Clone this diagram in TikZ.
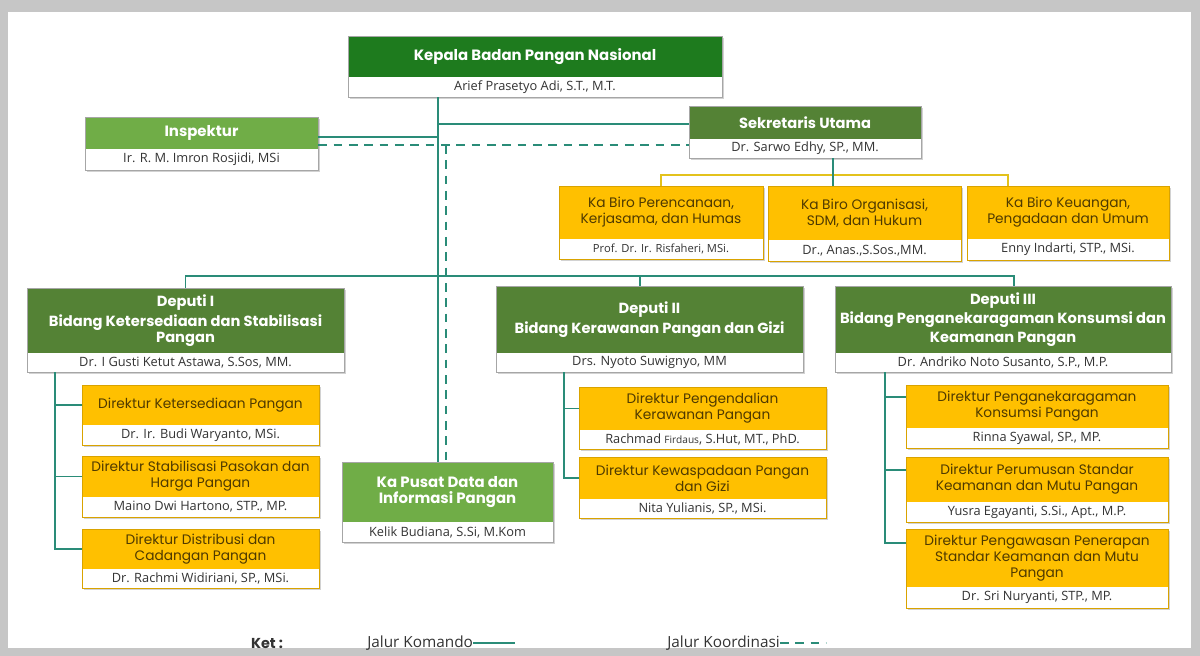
\documentclass[tikz,border=0pt]{standalone}
\usepackage{fontspec}
\setmainfont{Poppins}
\newfontfamily\namefont{Open Sans}
\usetikzlibrary{fit,calc,shadows}
\definecolor{gdark}{HTML}{1E7B1E}
\definecolor{gmid}{HTML}{548235}
\definecolor{glight}{HTML}{70AD47}
\definecolor{yel}{HTML}{FFC000}
\definecolor{lnteal}{HTML}{2A8C78}
\definecolor{ylin}{HTML}{E3C21C}
\definecolor{ytext}{HTML}{4F3A00}
\definecolor{ntext}{HTML}{333333}
\tikzset{
  boxframe/.style={inner sep=0pt, fill=white, drop shadow={shadow xshift=1.2pt, shadow yshift=-1.8pt, opacity=0.35}},
  hdr-gdark/.style={fill=gdark}, hdr-gmid/.style={fill=gmid}, hdr-glight/.style={fill=glight}, hdr-yel/.style={fill=yel},
  frm-gdark/.style={draw=gray!70, line width=0.4pt}, frm-gmid/.style={draw=gray!70, line width=0.4pt},
  frm-glight/.style={draw=gray!70, line width=0.4pt}, frm-yel/.style={draw=yel!85!black, line width=0.4pt},
  gttl/.style={text=white, align=center, font=\bfseries\fontsize{11}{14}\selectfont, inner sep=0pt},
  ttl-gdark/.style={gttl, font=\bfseries\fontsize{11.2}{14}\selectfont},
  ttl-gmid/.style={gttl}, ttl-glight/.style={gttl, font=\bfseries\fontsize{11.2}{11.8}\selectfont},
  ttl-yel/.style={text=ytext, align=center, font=\fontsize{10.3}{12}\selectfont, inner sep=0pt},
  nm/.style={text=ntext, font=\namefont\fontsize{9.6}{10}\selectfont, inner sep=0pt},
  cmd/.style={draw=lnteal, line width=1.3pt},
  koor/.style={draw=lnteal, line width=1.3pt, dash pattern=on 6.5pt off 5pt},
  ylink/.style={draw=ylin, line width=1.3pt},
  legt/.style={text=ntext, font=\namefont\fontsize{11.5}{12}\selectfont, inner sep=0pt},
}
\newcommand{\obox}[9]{%
  \node[boxframe, fit={(#2,#3) (#4,#6)}] (#1) {};
  \fill[hdr-#7] (#2,#3) rectangle (#4,#5);
  \draw[frm-#7] (#2,#3) rectangle (#4,#6);
  \node[ttl-#7] (#1-t) at ($(#2,#3)!0.5!(#4,#5)$) {#8};
  \node[nm] (#1-n) at ($(#2,#5)!0.5!(#4,#6)$) {#9};
}
\begin{document}
\begin{tikzpicture}[x=0.75pt,y=-0.75pt]
\useasboundingbox (0,0) rectangle (1200,656);
\fill[gray!45] (0,0) rectangle (1200,656);
\fill[white] (8,12) rectangle (1191,648);
% boxes
\obox{kepala}{348}{36}{722}{77}{97}{gdark}{Kepala Badan Pangan Nasional}{Arief Prasetyo Adi, S.T., M.T.}
\obox{inspektur}{85}{117}{318}{149}{170}{glight}{Inspektur}{Ir. R. M. Imron Rosjidi, MSi}
\obox{sekretaris}{689}{106}{921}{139}{158}{gmid}{Sekretaris Utama}{Dr. Sarwo Edhy, SP., MM.}
\obox{biro1}{559}{186}{763}{239}{259}{yel}{Ka Biro Perencanaan,\\Kerjasama, dan Humas}{{\fontsize{8.4}{9}\selectfont Prof. Dr. Ir. Risfaheri, MSi.}}
\obox{biro2}{768}{186}{961}{240}{261}{yel}{Ka Biro Organisasi,\\SDM, dan Hukum}{Dr., Anas.,S.Sos.,MM.}
\obox{biro3}{967}{186}{1169}{239}{260}{yel}{Ka Biro Keuangan,\\Pengadaan dan Umum}{Enny Indarti, STP., MSi.}
\obox{dep1}{27}{288}{344}{353}{372}{gmid}{Deputi I\\[1pt]Bidang Ketersediaan dan Stabilisasi\\[-1.5pt]Pangan}{Dr. I Gusti Ketut Astawa, S.Sos, MM.}
\obox{dep2}{496}{286}{803}{353}{372}{gmid}{Deputi II\\[1pt]Bidang Kerawanan Pangan dan Gizi}{Drs. Nyoto Suwignyo, MM}
\obox{dep3}{835}{286}{1171}{353}{372}{gmid}{Deputi III\\Bidang Penganekaragaman Konsumsi dan\\Keamanan Pangan}{Dr. Andriko Noto Susanto, S.P., M.P.}
\obox{kapusat}{342}{462}{553}{522}{542}{glight}{Ka Pusat Data dan\\Informasi Pangan}{Kelik Budiana, S.Si, M.Kom}
\obox{d11}{82}{385}{319}{425}{445}{yel}{Direktur Ketersediaan Pangan}{Dr. Ir. Budi Waryanto, MSi.}
\obox{d12}{82}{456}{319}{497}{517}{yel}{Direktur Stabilisasi Pasokan dan\\Harga Pangan}{Maino Dwi Hartono, STP., MP.}
\obox{d13}{82}{529}{319}{569}{588}{yel}{Direktur Distribusi dan\\Cadangan Pangan}{Dr. Rachmi Widiriani, SP., MSi.}
\obox{d21}{579}{387}{826}{430}{449}{yel}{Direktur Pengendalian\\Kerawanan Pangan}{Rachmad {\fontsize{7.6}{8}\selectfont Firdaus}, S.Hut, MT., PhD.}
\obox{d22}{579}{457}{826}{499}{518}{yel}{Direktur Kewaspadaan Pangan\\dan Gizi}{Nita Yulianis, SP., MSi.}
\obox{d31}{906}{385}{1168}{428}{448}{yel}{Direktur Penganekaragaman\\Konsumsi Pangan}{Rinna Syawal, SP., MP.}
\obox{d32}{906}{457}{1168}{502}{522}{yel}{Direktur Perumusan Standar\\Keamanan dan Mutu Pangan}{Yusra Egayanti, S.Si., Apt., M.P.}
\obox{d33}{906}{529}{1168}{587}{608}{yel}{Direktur Pengawasan Penerapan\\Standar Keamanan dan Mutu\\Pangan}{Dr. Sri Nuryanti, STP., MP.}
% helper coordinates
\coordinate (trunkx) at (438,0);
\coordinate (koorx) at (446,0);
\coordinate (yinsp) at (0,137);
\coordinate (ysek) at (0,124);
\coordinate (ykoor) at (0,145);
\coordinate (sekx) at (833,0);
\coordinate (ybiro) at (0,175);
\coordinate (b3x) at (1008,0);
\coordinate (ydep) at (0,276);
\coordinate (d2x) at (640,0);
\coordinate (d3x) at (1014,0);
\coordinate (c1x) at (55,0);
\coordinate (c2x) at (564,0);
\coordinate (c3x) at (885,0);
% command lines
\draw[cmd] (kepala.south -| trunkx) -- (kapusat.north -| trunkx);
\draw[cmd] (inspektur.east |- yinsp) -- (trunkx |- yinsp);
\draw[cmd] (trunkx |- ysek) -- (sekretaris.west |- ysek);
\draw[koor] (inspektur.east |- ykoor) -- (sekretaris.west |- ykoor);
\draw[koor] (koorx |- ykoor) -- (kapusat.north -| koorx);
\draw[ylink] (biro1.north) -- (biro1.north |- ybiro) -- (b3x |- ybiro) -- (biro3.north -| b3x);
\draw[cmd] (sekretaris.south -| sekx) -- (biro2.north -| sekx);
\draw[cmd] (dep1.north) -- (dep1.north |- ydep) -- (d3x |- ydep) -- (dep3.north -| d3x);
\draw[cmd] (d2x |- ydep) -- (dep2.north -| d2x);
% deputi I
\draw[cmd] (dep1.south -| c1x) |- (d13-t -| d13.west);
\draw[cmd] (c1x |- d11-t) -- (d11-t -| d11.west);
\draw[cmd] (c1x |- d12-t) -- (d12-t -| d12.west);
% deputi II
\draw[cmd] (dep2.south -| c2x) |- (d22-t -| d22.west);
\draw[cmd] (c2x |- d21-t) -- (d21-t -| d21.west);
% deputi III
\draw[cmd] (dep3.south -| c3x) |- ($(d33.north west)+(0,14)$);
\draw[cmd] (c3x |- {$(d31.north west)+(0,12)$}) -- ($(d31.north west)+(0,12)$);
\draw[cmd] (c3x |- {$(d32.north west)+(0,13)$}) -- ($(d32.north west)+(0,13)$);
% legend
\node[legt, font=\bfseries\fontsize{10.8}{12}\selectfont] (ket) at (267,643) {Ket :};
\node[legt, anchor=west] (kom) at (367,643) {Jalur Komando};
\coordinate (kome) at (515,643);
\draw[cmd] (kom.east) -- (kome);
\node[legt, anchor=west] (koo) at (667,643) {Jalur Koordinasi};
\coordinate (kooe) at (826,643);
\draw[koor] (koo.east) -- (kooe);
\end{tikzpicture}
\end{document}
